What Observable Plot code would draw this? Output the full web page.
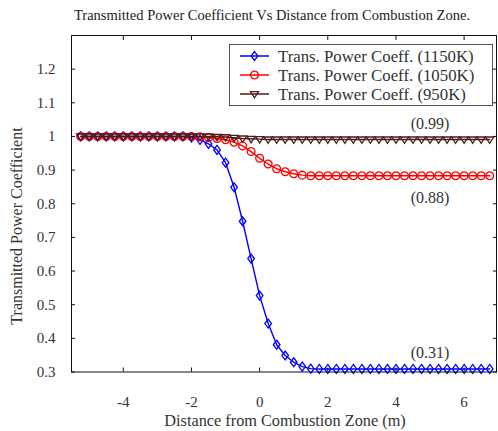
<!DOCTYPE html>
<html>
<head>
<meta charset="utf-8">
<script src="https://cdn.jsdelivr.net/npm/d3@7"></script>
<script src="https://cdn.jsdelivr.net/npm/@observablehq/plot@0.6"></script>
<style>
  html, body { margin: 0; padding: 0; background: #fff; }
  #wrap { position: relative; width: 498px; height: 431px; overflow: hidden; font-family: "Liberation Serif", "Times New Roman", serif; }
  #legend { position: absolute; left: 229px; top: 44px; width: 264px; height: 62px; box-sizing: border-box; border: 1px solid #555; background: #fff; }
  #ylabel { position: absolute; left: 16.7px; top: 226px; transform: translate(-50%, -50%) rotate(-90deg); white-space: nowrap; font-size: 16px; color: #333; line-height: 1; }
</style>
</head>
<body>
<div id="wrap"><div id="chart"></div><div id="legend"></div><div id="ylabel"></div></div>
<script>
// ---- data ----
const distance = [-5.25,-5,-4.75,-4.5,-4.25,-4,-3.75,-3.5,-3.25,-3,-2.75,-2.5,-2.25,-2,-1.75,-1.5,-1.25,-1,-0.75,-0.5,-0.25,0,0.25,0.5,0.75,1,1.25,1.5,1.75,2,2.25,2.5,2.75,3,3.25,3.5,3.75,4,4.25,4.5,4.75,5,5.25,5.5,5.75,6,6.25,6.5,6.75];
const coeff1150 = [1,1,1,1,1,1,1,1,1,1,1,1,1,0.997,0.99,0.978,0.96,0.922,0.849,0.748,0.637,0.527,0.444,0.381,0.349,0.329,0.316,0.31,0.309,0.309,0.309,0.309,0.309,0.309,0.309,0.309,0.309,0.309,0.309,0.309,0.309,0.309,0.309,0.309,0.309,0.309,0.309,0.309,0.309];
const coeff1050 = [1,1,1,1,1,1,1,1,1,1,1,1,1,1,0.999,0.997,0.994,0.99,0.983,0.972,0.955,0.935,0.918,0.904,0.895,0.889,0.885,0.883,0.883,0.883,0.883,0.883,0.883,0.883,0.883,0.883,0.883,0.883,0.883,0.883,0.883,0.883,0.883,0.883,0.883,0.883,0.883,0.883,0.883];
const coeff950 = [1,1,1,1,1,1,1,1,1,1,1,1,1,1,1,1,0.999,0.998,0.996,0.994,0.993,0.992,0.991,0.991,0.991,0.991,0.991,0.991,0.991,0.991,0.991,0.991,0.991,0.991,0.991,0.991,0.991,0.991,0.991,0.991,0.991,0.991,0.991,0.991,0.991,0.991,0.991,0.991,0.991];
const seriesNames = ["Trans. Power Coeff. (1150K)", "Trans. Power Coeff. (1050K)", "Trans. Power Coeff. (950K)"];
const seriesColors = ["#0000ff", "#ff0000", "#4a1c1c"];
const xTicks = [-4, -2, 0, 2, 4, 6];
const yTicks = [0.3, 0.4, 0.5, 0.6, 0.7, 0.8, 0.9, 1.0, 1.1, 1.2];
const noteX = [5, 5, 5];
const noteY = [1.038, 0.818, 0.358];
const noteText = ["(0.99)", "(0.88)", "(0.31)"];
const titleText = "Transmitted Power Coefficient Vs Distance from Combustion Zone.";
const xLabel = "Distance from Combustion Zone (m)";
const yLabel = "Transmitted Power Coefficient";

const FONT = "'Liberation Serif', 'Times New Roman', serif";

// ---- custom marker shapes ----
const diamondSym = { draw(ctx, size) { const r = Math.sqrt(size / Math.PI); const w = r * 0.85, h = r * 1.15;
  ctx.moveTo(0, -h); ctx.lineTo(w, 0); ctx.lineTo(0, h); ctx.lineTo(-w, 0); ctx.closePath(); } };
const circleSym = { draw(ctx, size) { const r = Math.sqrt(size / Math.PI); ctx.moveTo(r, 0); ctx.arc(0, 0, r, 0, 2 * Math.PI); } };
const triDownSym = { draw(ctx, size) { const r = Math.sqrt(size / Math.PI) * 1.05;
  ctx.moveTo(-r, -r * 0.6); ctx.lineTo(r, -r * 0.6); ctx.lineTo(0, r * 0.95); ctx.closePath(); } };
const symbols = [diamondSym, circleSym, triDownSym];

const allSeries = [coeff1150, coeff1050, coeff950];
const rows = allSeries.map((vals, s) => distance.map((d, i) => ({x: d, y: vals[i], s})));

const fmt = d => String(+d.toFixed(1));
const marks = [];
rows.forEach((data, s) => {
  marks.push(Plot.line(data, {x: "x", y: "y", stroke: seriesColors[s], strokeWidth: 1.4}));
  marks.push(Plot.dot(data, {x: "x", y: "y", stroke: seriesColors[s], symbol: () => symbols[s], r: 3.9, strokeWidth: 1.3, fill: "none"}));
});
const noteData = noteText.map((t, i) => ({x: noteX[i], y: noteY[i], t}));

const chart = Plot.plot({
  width: 498, height: 431,
  marginLeft: 71, marginRight: 2, marginTop: 35, marginBottom: 59.5,
  style: {fontFamily: FONT, fontSize: "14px", color: "#222", background: "white"},
  x: {domain: [-5.52, 6.95]},
  y: {domain: [0.3, 1.3]},
  marks: [
    ...marks,
    Plot.text(noteData, {x: "x", y: "y", text: "t", fontSize: 16, fontFamily: FONT, fill: "#333"}),
    Plot.frame({stroke: "#111"}),
    Plot.axisX({anchor: "bottom", ticks: xTicks, tickSize: 4, dy: -4, tickFormat: () => "", label: null, stroke: "#111"}),
    Plot.axisX({anchor: "top", ticks: xTicks, tickSize: 4, dy: 4, tickFormat: () => "", label: null, stroke: "#111"}),
    Plot.axisY({anchor: "left", ticks: yTicks, tickSize: 4, dx: 4, tickFormat: () => "", label: null, stroke: "#111"}),
    Plot.axisY({anchor: "right", ticks: yTicks, tickSize: 4, dx: -4, tickFormat: () => "", label: null, stroke: "#111"}),
    Plot.axisX({anchor: "bottom", ticks: xTicks, tickSize: 0, tickPadding: 24, tickFormat: d => String(d), label: null, fontSize: 15, fontFamily: FONT, fill: "#333"}),
    Plot.axisY({anchor: "left", ticks: yTicks, tickSize: 0, tickPadding: 16, tickFormat: fmt, label: null, fontSize: 15, fontFamily: FONT, fill: "#333"}),
    Plot.text([titleText], {frameAnchor: "top", text: d => d, lineAnchor: "middle", textAnchor: "middle", dy: -20, dx: -12, fontSize: 14.5, fontFamily: FONT, fill: "#222"}),
    Plot.text([xLabel], {frameAnchor: "bottom", text: d => d, lineAnchor: "middle", textAnchor: "middle", dy: 48.5, dx: 1, fontSize: 16.3, fontFamily: FONT, fill: "#333"})
  ]
});
document.getElementById("chart").appendChild(chart);
document.getElementById("ylabel").textContent = yLabel;

// ---- legend ----
const lg = d3.select("#legend").append("svg").attr("width", 262).attr("height", 60)
  .style("position", "absolute").style("left", "0px").style("top", "0px");
const rowY = [11, 30, 49];
seriesNames.forEach((name, s) => {
  const g = lg.append("g").attr("transform", `translate(0,${rowY[s]})`);
  g.append("line").attr("x1", 10).attr("x2", 39).attr("y1", 0).attr("y2", 0).attr("stroke", seriesColors[s]).attr("stroke-width", 1.5);
  const p = d3.path(); symbols[s].draw(p, Math.PI * 3.9 * 3.9);
  g.append("path").attr("d", p.toString()).attr("transform", "translate(24.5,0)").attr("fill", "none").attr("stroke", seriesColors[s]).attr("stroke-width", 1.3);
  g.append("text").attr("x", 48).attr("y", 0).attr("dy", "0.35em").attr("font-size", 16.8).attr("fill", "#333")
    .attr("font-family", FONT).text(name);
});
</script>
</body>
</html>
